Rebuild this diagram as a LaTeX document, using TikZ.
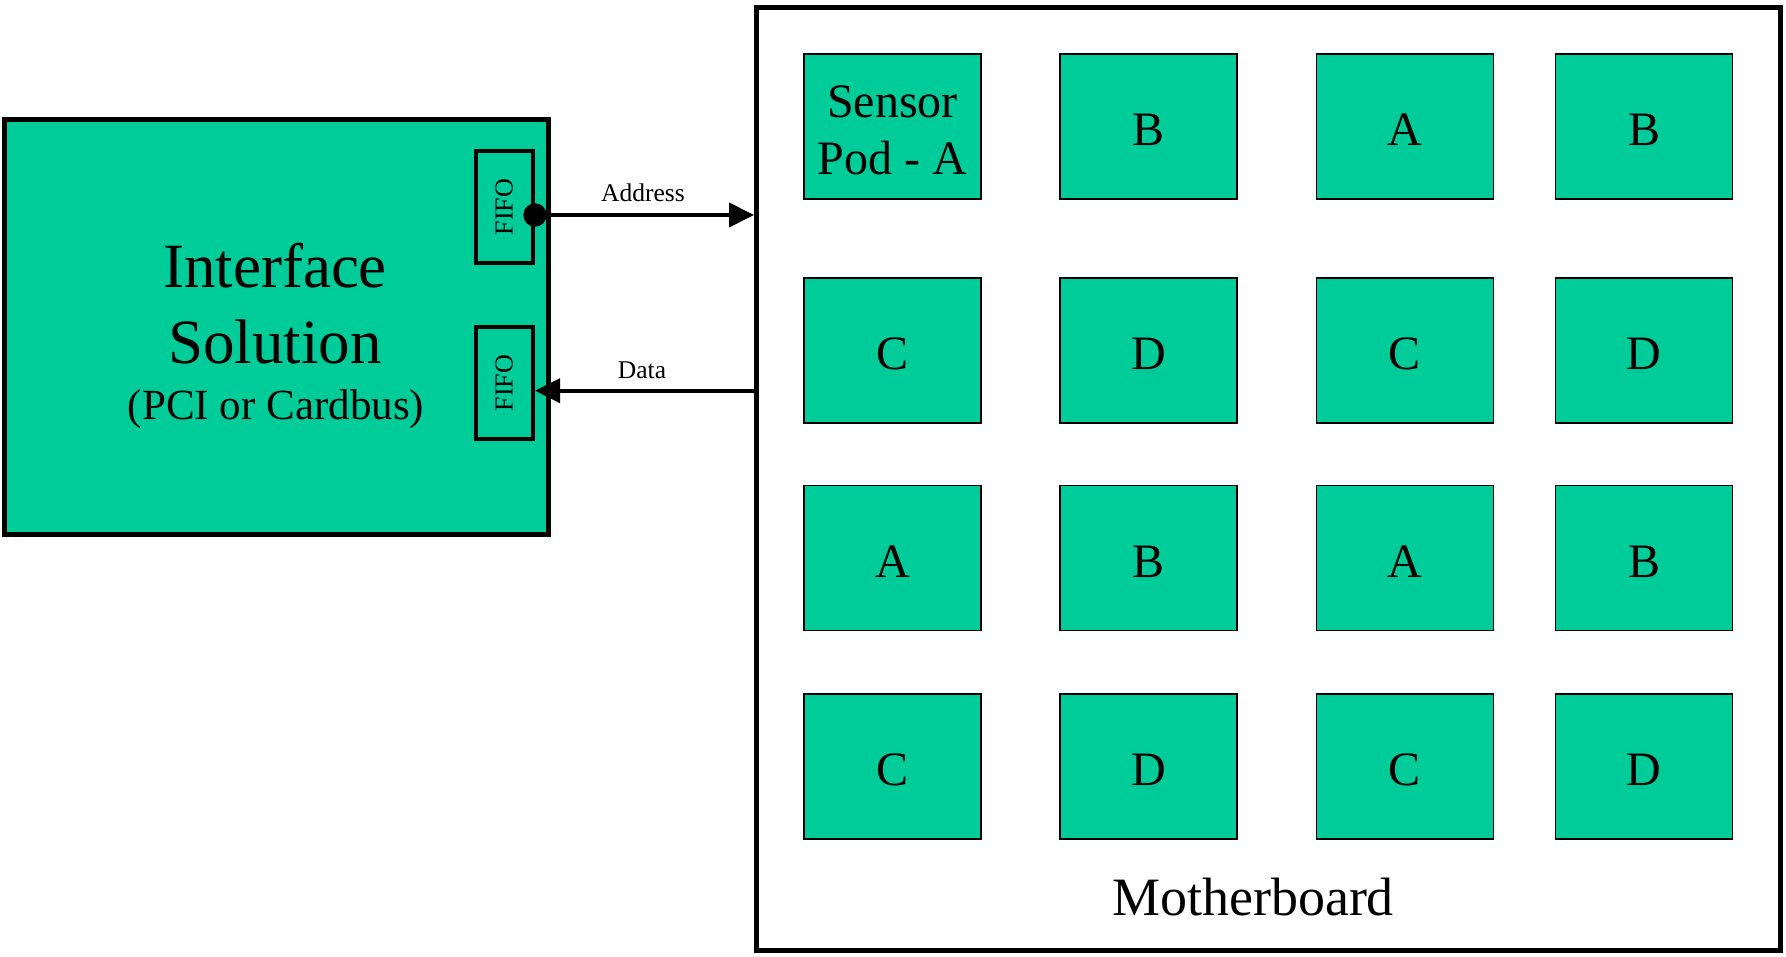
\documentclass[tikz,border=0pt]{standalone}
\usepackage{fontspec}
\setmainfont{Liberation Serif}
\usetikzlibrary{arrows.meta}
\definecolor{board}{RGB}{0,204,153}

\begin{document}
\begin{tikzpicture}[x=1pt,y=-1pt,
  podbox/.style={draw=black, fill=board, line width=1.5pt, inner sep=0pt,
    minimum width=177pt, minimum height=145pt},
  podtext/.style={inner sep=0pt, align=center, yshift=-3.5pt,
    font=\fontsize{48}{57}\selectfont},
  pod/.style={podbox, label={[podtext]center:#1}},
  fifobox/.style={draw=black, line width=4pt, inner sep=0pt,
    minimum width=57.5pt, minimum height=112pt,
    font=\fontsize{26}{30}\selectfont},
  wire/.style={line width=4pt, -{Triangle[length=25pt,width=24pt]}},
  wirelabel/.style={anchor=base, inner sep=0pt, font=\fontsize{25.5}{30}\selectfont},
  title/.style={anchor=base, inner sep=0pt}]
\useasboundingbox (0,0) rectangle (1786,956);

% host-side interface card
\node[draw=black, fill=board, line width=5pt, inner sep=0pt,
  minimum width=544pt, minimum height=414.5pt] (iface) at (276.5,326.75) {};
\node[title, font=\fontsize{63}{76}\selectfont] (ifaceA) at (275,287) {Interface};
\node[title, font=\fontsize{63}{76}\selectfont] (ifaceB) at (275,363) {Solution};
\node[title, font=\fontsize{43}{50}\selectfont] (ifaceC) at (276,419) {(PCI or Cardbus)};

% FIFO buffers
\node[fifobox] (fifoA) at (504.25,207) {\rotatebox{90}{FIFO}};
\node[fifobox] (fifoB) at (504.25,383) {\rotatebox{90}{FIFO}};

% motherboard outline
\node[draw=black, fill=white, line width=5pt, inner sep=0pt,
  minimum width=1024pt, minimum height=943.5pt] (mb) at (1268.5,478.75) {};
\node[title, font=\fontsize{54}{60}\selectfont] (mbLabel) at (1253,915) {Motherboard};

% sensor pods
\node[pod={Sensor\\Pod - A}] (p11) at (892.6,126.4) {};
\node[pod=B] (p12) at (1148.7,126.4) {};
\node[pod=A] (p13) at (1404.9,126.4) {};
\node[pod=B] (p14) at (1644,126.4) {};
\node[pod=C] (p21) at (892.6,350.3) {};
\node[pod=D] (p22) at (1148.7,350.3) {};
\node[pod=C] (p23) at (1404.9,350.3) {};
\node[pod=D] (p24) at (1644,350.3) {};
\node[pod=A] (p31) at (892.6,558) {};
\node[pod=B] (p32) at (1148.7,558) {};
\node[pod=A] (p33) at (1404.9,558) {};
\node[pod=B] (p34) at (1644,558) {};
\node[pod=C] (p41) at (892.6,766.5) {};
\node[pod=D] (p42) at (1148.7,766.5) {};
\node[pod=C] (p43) at (1404.9,766.5) {};
\node[pod=D] (p44) at (1644,766.5) {};

% address and data buses
\coordinate (addrStart) at ([yshift=-8pt]fifoA.east);
\coordinate (dataEnd) at ([yshift=-7.7pt]fifoB.east);
\draw[wire] (addrStart) -- (addrStart -| mb.west);
\draw[wire] (dataEnd -| mb.west) -- (dataEnd);
\node[circle, fill=black, inner sep=0pt, minimum size=23.4pt] (addrDot) at (addrStart) {};
\node[wirelabel] (addrLabel) at (643,201.7) {Address};
\node[wirelabel] (dataLabel) at (642,378) {Data};
\end{tikzpicture}
\end{document}
